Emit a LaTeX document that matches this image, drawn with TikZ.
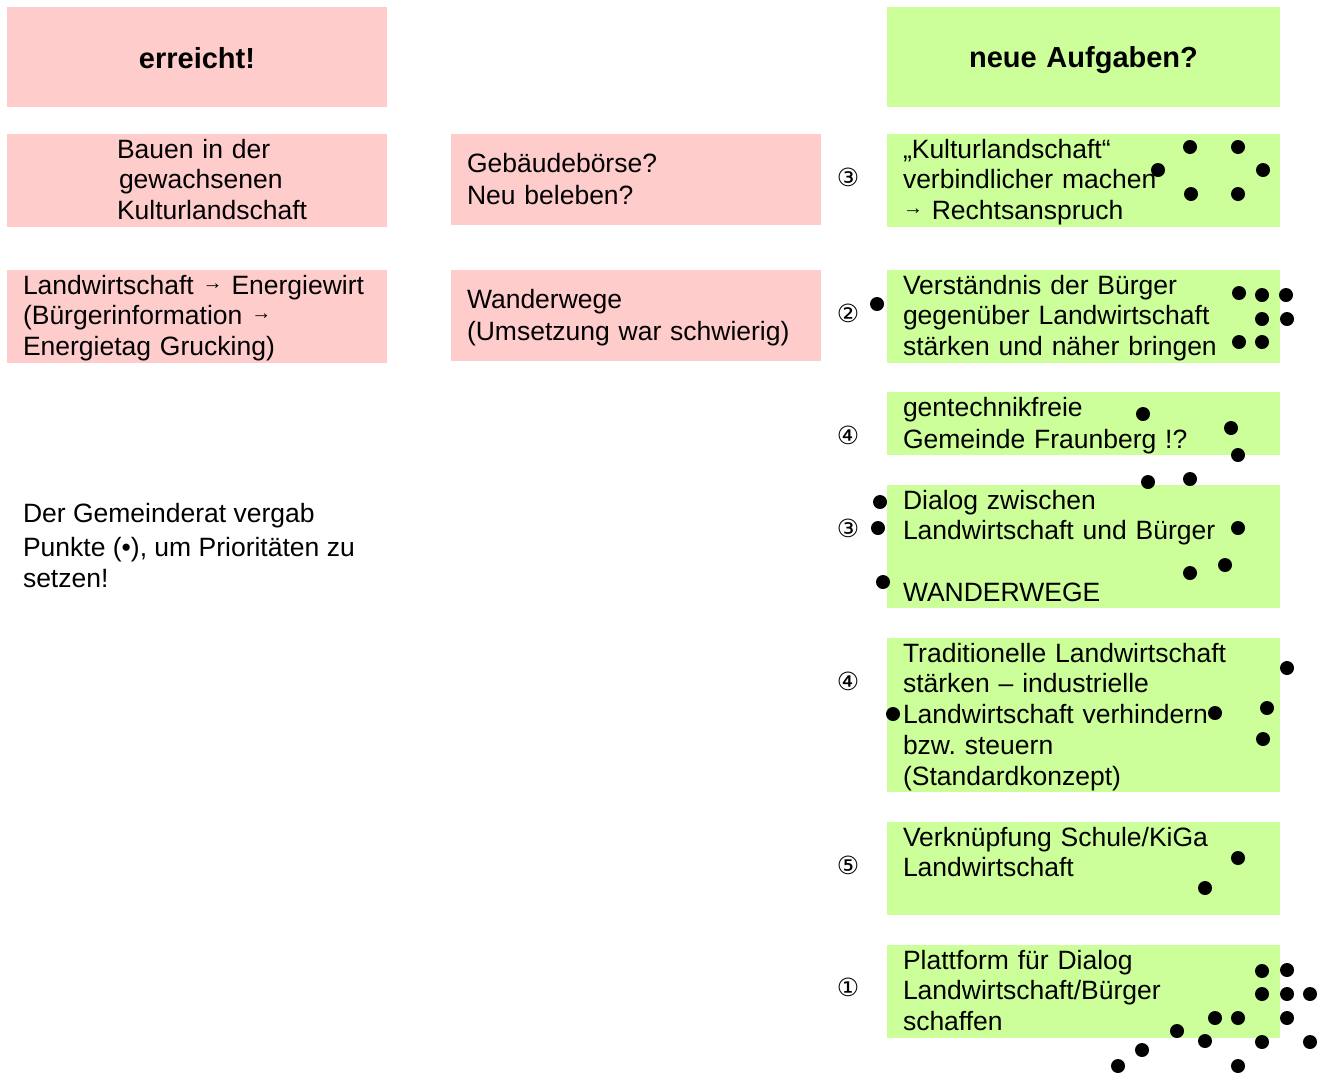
\documentclass[tikz,border=0pt]{standalone}
\usepackage{fontspec}
\setmainfont{Liberation Sans}
\newfontfamily\circfont{DejaVu Sans}
\definecolor{pinkfill}{HTML}{FFCCCC}
\definecolor{greenfill}{HTML}{CCFF99}
\newcommand\lstrut{\rule[-7pt]{0pt}{31pt}}
\newcommand\hstrut{\rule[-4pt]{0pt}{31pt}}
\newcommand\sarr{\raisebox{5pt}{\fontsize{20}{20}\selectfont →}}
\frenchspacing
\begin{document}
\begin{tikzpicture}[x=1pt,y=-1pt,
  every node/.style={inner sep=0pt, outer sep=0pt},
  txt/.style={font=\fontsize{26.5}{30.8}\selectfont},
  headtxt/.style={font=\fontsize{29}{31}\selectfont\bfseries},
  card/.style={txt, anchor=north west, inner xsep=16pt, inner ysep=0pt, align=left},
  pinkcard/.style={card, fill=pinkfill},
  greencard/.style={card, fill=greenfill, text width=361pt},
  rank/.style={font=\circfont\fontsize{25}{28}\selectfont},
  vote/.style={fill=black}
]
\useasboundingbox (0,0) rectangle (1329,1072);
\fill[white] (0,0) rectangle (1329,1072);

% headers
\node[pinkcard, headtxt, text width=348pt, minimum height=100pt, align=center] (erreicht) at (7,7) {\hstrut erreicht!\hstrut};
\node[greencard, headtxt, minimum height=100pt, align=center] (neue) at (887,7) {\hstrut neue Aufgaben?\hstrut};

% left column
\node[pinkcard, text width=348pt, minimum height=91pt] (bauen) at (7,134)
  {\lstrut\hspace*{94pt}Bauen in der\\\hspace*{96pt}gewachsenen\\\hspace*{94pt}Kulturlandschaft\lstrut};
\node[pinkcard, text width=348pt, minimum height=91pt] (energie) at (7,270)
  {\lstrut Landwirtschaft \sarr{} Energiewirt\\(Bürgerinformation \sarr\\Energietag Grucking)\lstrut};

% middle column
\node[pinkcard, text width=338pt, minimum height=91pt] (gebaeude) at (451,134)
  {\lstrut Gebäudebörse?\\Neu beleben?\lstrut};
\node[pinkcard, text width=338pt, minimum height=91pt] (wander) at (451,270)
  {\lstrut Wanderwege\\(Umsetzung war schwierig)\lstrut};

% note
\node[txt, anchor=north west, align=left] (note) at (23,498)
  {\lstrut Der Gemeinderat vergab\\[4pt]Punkte (•), um Prioritäten zu\\setzen!\lstrut};

% right column
\node[greencard, minimum height=91pt] (k1) at (887,134)
  {\lstrut „Kulturlandschaft“\\verbindlicher machen\\\sarr{} Rechtsanspruch\lstrut};
\node[greencard, minimum height=91pt] (k2) at (887,270)
  {\lstrut Verständnis der Bürger\\gegenüber Landwirtschaft\\stärken und näher bringen\lstrut};
\node[greencard, minimum height=61pt] (k3) at (887,392)
  {\lstrut gentechnikfreie\\Gemeinde Fraunberg !?\lstrut};
\node[greencard, minimum height=121pt] (k4) at (887,485)
  {\lstrut Dialog zwischen\\Landwirtschaft und Bürger\\\mbox{}\\WANDERWEGE\lstrut};
\node[greencard, minimum height=153pt] (k5) at (887,638)
  {\lstrut Traditionelle Landwirtschaft\\stärken – industrielle\\Landwirtschaft verhindern\\bzw. steuern\\(Standardkonzept)\lstrut};
\node[greencard, minimum height=90pt] (k6) at (887,822)
  {\lstrut Verknüpfung Schule/KiGa\\Landwirtschaft\\\mbox{}\lstrut};
\node[greencard, minimum height=91pt] (k7) at (887,945)
  {\lstrut Plattform für Dialog\\Landwirtschaft/Bürger\\schaffen\lstrut};

% ranks
\node[rank] (r1) at (848,177) {③};
\node[rank] (r2) at (848,313) {②};
\node[rank] (r3) at (848,435) {④};
\node[rank] (r4) at (848,528) {③};
\node[rank] (r5) at (848,681) {④};
\node[rank] (r6) at (848,865) {⑤};
\node[rank] (r7) at (848,987) {①};

% voting dots
\foreach \px/\py in {
  1190/147, 1238/147, 1158/170, 1263/170, 1191/194, 1238/194,
  877/304, 1239/293, 1262/295, 1286/295, 1262/319, 1287/319, 1239/342, 1262/342,
  1143/414, 1231/428, 1238/455, 1148/482, 1190/479,
  880/502, 878/528, 1238/528, 1225/565, 1190/573, 883/582,
  1287/668, 893/714, 1215/713, 1267/708, 1263/739,
  1238/858, 1205/888,
  1262/971, 1287/970, 1262/994, 1287/994, 1310/994,
  1215/1018, 1238/1018, 1287/1018, 1177/1031, 1205/1041, 1262/1042, 1310/1042,
  1142/1050, 1118/1066, 1238/1066}
  \fill[vote] (\px,\py) circle (7);
\end{tikzpicture}
\end{document}
